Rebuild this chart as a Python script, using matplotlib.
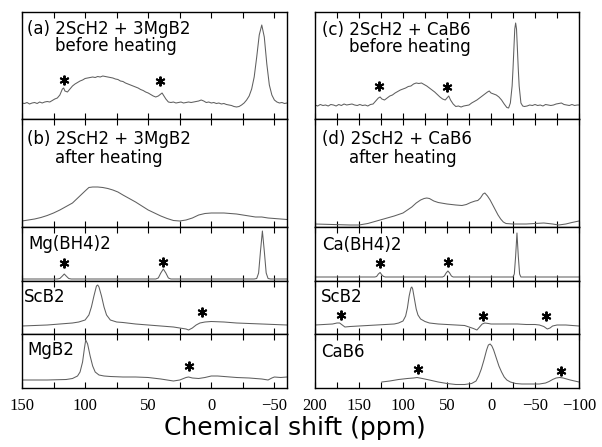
import matplotlib.pyplot as plt
from matplotlib.ticker import MultipleLocator

# spectra: ppm positions and heights (pixels above panel bottom)
a_ppm = [150, 148, 146, 144, 142, 140, 138, 136, 134, 132, 130, 128, 126, 124, 122, 120, 118, 117, 116, 114,
         112, 110, 108, 106, 104, 102, 100, 98, 96, 94, 92, 90, 88, 86, 84, 82, 80, 78, 76, 74,
         72, 70, 68, 66, 64, 62, 60, 58, 56, 54, 52, 50, 48, 46, 44, 42, 40, 39, 38, 36,
         34, 32, 30, 28, 26, 24, 22, 20, 18, 16, 14, 12, 10, 8, 6, 4, 2, 0, -2, -4,
         -6, -8, -10, -12, -14, -16, -18, -20, -22, -24, -26, -28, -30, -32, -34, -36, -38, -40, -42, -44,
         -46, -48, -50, -52, -54, -56, -58, -60]
a_int = [16, 15.5, 16.5, 15, 16, 16.5, 15.5, 17, 16, 17, 17.5, 17, 18.5, 20, 21, 24, 30, 31, 28, 27,
         30, 33, 35, 36.5, 38, 39, 40.5, 41, 41.5, 42, 41.5, 42.5, 42, 43, 42.5, 42, 41.5, 41, 40, 39.5,
         38, 37.5, 36, 35, 34, 33, 32, 31, 29.5, 28.5, 27, 26, 24.5, 23, 22, 23, 25, 26, 24, 20,
         17, 16.5, 17, 16, 16.5, 17, 16, 16.5, 17, 16.5, 17, 17.5, 18, 19, 18, 16.5, 17, 16, 16.5, 15.5,
         16, 15, 15.5, 14.5, 14, 13.5, 12.5, 12, 12.5, 14, 16, 19, 23, 30, 42, 62, 84, 94, 82, 55,
         34, 24, 19, 17, 16, 16.5, 15.5, 16]

b_ppm = [150, 145, 140, 135, 130, 125, 120, 115, 110, 105, 100, 97, 94, 90, 86, 82, 78, 74, 70, 65,
         60, 55, 50, 45, 40, 35, 30, 25, 20, 15, 10, 5, 0, -5, -10, -15, -20, -25, -30, -35,
         -40, -45, -50, -55, -60]
b_int = [6, 7, 8, 9.5, 11.5, 14, 17, 20.5, 24, 30, 36, 39.5, 40, 40, 39.5, 38.5, 37, 35, 32, 28.5,
         25, 21, 17, 14, 11, 8.5, 6.5, 6, 7, 9, 12, 13.5, 14, 14, 14, 13.5, 13, 12, 11, 10,
         10, 9, 8.5, 8, 7.5]

mgbh_ppm = [150, 122, 120, 118, 116.5, 115, 113, 111, 44, 42, 40, 38, 36, 34, 32,
            -34, -36, -37.5, -39, -40.5, -42, -43.5, -45, -47, -60]
mgbh_int = [2, 2, 2.5, 5, 7, 5, 2.5, 2, 2, 3, 8, 12, 8, 3, 2,
            2, 2.5, 8, 30, 50, 30, 8, 2.5, 2, 2]

scb2_l_ppm = [150, 140, 130, 120, 110, 105, 100, 97, 95, 93, 91, 90, 89, 87, 85, 83, 80, 75, 70, 60,
              50, 40, 30, 25, 20, 18, 15, 12, 9, 5, 0, -10, -20, -30, -40, -50, -60]
scb2_l_int = [8, 8.5, 9, 10, 11, 12, 14, 19, 27, 38, 48, 49, 47, 38, 27, 19, 14, 12, 11.5, 10,
              9, 8, 7, 6, 5, 4, 6, 9, 11, 12, 12.5, 12, 11, 10.5, 10, 9.5, 9]

mgb2_ppm = [150, 130, 115, 110, 106, 104, 102, 100.5, 99.5, 98, 96, 94, 92, 89, 85, 80, 70, 60, 50, 40,
            35, 30, 25, 20, 18, 15, 10, 5, 0, -5, -10, -20, -30, -40, -45, -48, -50, -55, -60]
mgb2_int = [8, 8, 8.5, 9.5, 12, 16, 26, 40, 48, 44, 32, 22, 16, 13, 12, 11.5, 11, 11, 10.5, 9,
            8, 7, 8, 10.5, 11, 10, 9.5, 10.5, 12, 12, 11.5, 10.5, 10, 9, 8, 10, 11, 10.5, 11]

c_ppm = [200, 197, 194, 191, 188, 185, 182, 179, 176, 173, 170, 167, 164, 161, 158, 155, 152, 149, 146, 143,
         140, 137, 134, 131, 128, 126, 124, 121, 118, 115, 112, 109, 106, 103, 100, 97, 94, 91, 88, 85,
         82, 79, 76, 73, 70, 67, 64, 61, 58, 55, 52, 50, 48, 46, 43, 40, 37, 34, 31, 28,
         25, 22, 19, 16, 13, 10, 7, 4, 2, 0, -3, -6, -9, -12, -15, -18, -20, -22, -24, -25,
         -26, -27, -28, -29, -30, -31, -32, -34, -36, -38, -41, -44, -47, -50, -53, -56, -59, -62, -65, -68,
         -71, -74, -77, -80, -83, -86, -89, -92, -95, -98, -100]
c_int = [14, 13, 14.5, 13.5, 14, 13, 14.5, 14, 13, 14.5, 13.5, 15, 14, 14.5, 15, 14, 13.5, 14.5, 13.5, 14,
         13, 14.5, 15, 18, 21, 22, 20, 19, 21, 23, 24, 26, 27.5, 29, 30, 31, 32.5, 33, 35, 36,
         35.5, 36, 34.5, 33, 31, 29, 27, 24.5, 22, 20, 19, 21, 23, 19, 15, 12.5, 13, 12, 13, 13.5,
         14, 16, 17.5, 19, 21, 23, 25, 27, 28, 26, 25, 24, 22, 19, 15, 11.5, 11, 16, 33, 50,
         70, 90, 96, 90, 70, 50, 33, 16, 13, 12.5, 13, 14, 13.5, 14.5, 13.5, 14, 13, 14.5, 14, 13.5,
         14, 15, 15.5, 16, 14.5, 14, 13.5, 14.5, 13.5, 14, 14]

d_ppm = [200, 180, 160, 150, 140, 130, 120, 110, 100, 95, 90, 85, 80, 76, 73, 70, 65, 60, 50, 40,
         33, 28, 23, 18, 15, 12, 9, 7, 4, 1, -2, -5, -8, -11, -14, -17, -25, -40, -50, -60,
         -70, -77, -85, -92, -100]
d_int = [3, 2.5, 2, 2, 3.5, 6, 8.5, 11, 14, 17, 20, 24, 27, 28.5, 29, 28.5, 26, 24.5, 23, 22,
         21.5, 22.5, 24.5, 26, 26.5, 29, 33, 34, 31, 27, 22, 17, 12, 8, 5, 3.5, 3, 3, 3.5, 4,
         3, 2, 3, 4.5, 6]

cabh_ppm = [200, 132, 130, 128, 126, 124, 122, 120, 55, 53, 51, 49, 47, 45, 43,
            -25, -26.5, -28, -29.5, -31, -32.5, -34, -100]
cabh_int = [4, 4, 4.5, 7, 8.5, 6, 4.5, 4, 4, 5, 8, 10, 8, 5, 4,
            4, 7, 25, 48, 25, 7, 4, 4]

scb2_r_ppm = [200, 190, 180, 175, 172, 169, 166, 160, 150, 140, 130, 120, 110, 105, 100, 97, 95, 93, 91, 90,
              89, 87, 85, 83, 80, 75, 70, 60, 50, 40, 30, 25, 20, 16, 13, 10, 7, 3, 0, -10,
              -20, -30, -40, -50, -55, -60, -64, -67, -70, -75, -85, -100]
scb2_r_int = [9, 9.5, 10, 11, 11, 9, 7, 7.5, 8, 8.5, 9, 9.5, 10, 11, 13, 18, 26, 38, 46, 47,
              45, 35, 25, 19, 15, 12.5, 11, 10, 9.5, 9, 8.5, 7, 5.5, 4, 7, 10, 11, 10.5, 10, 10,
              10, 10, 9.5, 9.5, 9, 7.5, 5, 6, 8, 9, 9, 8]

cab6_ppm = [124, 115, 105, 95, 88, 84, 78, 70, 60, 50, 40, 30, 22, 17, 14, 11, 8, 5, 3, 1,
            -1, -3, -6, -9, -12, -15, -18, -22, -28, -35, -45, -55, -62, -66, -70, -74, -78, -82, -86, -90,
            -95, -100]
cab6_int = [6, 7, 8.5, 9.5, 10, 10.5, 9.5, 8, 6, 4.5, 3.5, 3.5, 4.5, 7, 12, 19, 28, 38, 43, 44,
            42, 38, 30, 22, 16, 11, 8, 6, 4.5, 4, 4, 4, 5, 6.5, 8.5, 10, 10.5, 10, 9, 8,
            7, 6]

# spinning sideband markers (ppm, height)
a_stars = [(117, 39), (40.5, 38)]
b_stars = []
mgbh_stars = [(116.5, 18), (38, 19)]
scb2_l_stars = [(7, 22)]
mgb2_stars = [(18, 22)]
c_stars = [(127.5, 33), (50, 32)]
d_stars = []
cabh_stars = [(126.5, 18), (49, 19)]
scb2_r_stars = [(171, 19), (9.5, 18), (-63, 18)]
cab6_stars = [(83, 19), (-79, 17)]

W, H = 602, 447
fig = plt.figure(figsize=(W / 100, H / 100), dpi=100)

# panel boundaries in pixels (top to bottom)
rows = [12, 119, 227, 281, 334, 388]
cols = [(22, 287, 150, -60), (315, 579, 200, -100)]

# label text, x of first line, x of second line, baselines below panel top (px)
left_panels = [
    (a_ppm, a_int, a_stars, ['(a) 2ScH2 + 3MgB2', 'before heating'], 27, 55, (22, 39)),
    (b_ppm, b_int, b_stars, ['(b) 2ScH2 + 3MgB2', 'after heating'], 27, 55, (25, 44)),
    (mgbh_ppm, mgbh_int, mgbh_stars, ['Mg(BH4)2'], 28, 0, (22,)),
    (scb2_l_ppm, scb2_l_int, scb2_l_stars, ['ScB2'], 24, 0, (21,)),
    (mgb2_ppm, mgb2_int, mgb2_stars, ['MgB2'], 27, 0, (21,)),
]
right_panels = [
    (c_ppm, c_int, c_stars, ['(c) 2ScH2 + CaB6', 'before heating'], 322, 349, (23, 40)),
    (d_ppm, d_int, d_stars, ['(d) 2ScH2 + CaB6', 'after heating'], 322, 349, (25, 44)),
    (cabh_ppm, cabh_int, cabh_stars, ['Ca(BH4)2'], 322, 0, (23,)),
    (scb2_r_ppm, scb2_r_int, scb2_r_stars, ['ScB2'], 321, 0, (21,)),
    (cab6_ppm, cab6_int, cab6_stars, ['CaB6'], 321, 0, (23,)),
]

for (x0, x1, xmax, xmin), panels in zip(cols, [left_panels, right_panels]):
    for i, (ppm, inten, stars, label, lx1, lx2, base) in enumerate(panels):
        top, bot = rows[i], rows[i + 1]
        h = bot - top
        w = x1 - x0
        ax = fig.add_axes([x0 / W, 1 - bot / H, w / W, h / H])
        ax.plot(ppm, inten, color='#5f5f5f', lw=0.75)
        for sx, sy in stars:
            ax.plot(sx, sy, marker=(6, 2, 0), ms=7, mew=1.4, color='black')
        ax.set_xlim(xmax, xmin)
        ax.set_ylim(0, h)
        ax.set_yticks([])
        ax.xaxis.set_major_locator(MultipleLocator(50))
        ax.xaxis.set_minor_locator(MultipleLocator(25))
        ax.tick_params(axis='x', which='both', direction='in', top=True, bottom=True,
                       length=4, width=0.8, pad=7)
        for s in ax.spines.values():
            s.set_linewidth(1.0)
        if i < 4:
            ax.tick_params(axis='x', labelbottom=False)
        else:
            for t in ax.get_xticklabels():
                t.set_family('Liberation Serif')
                t.set_fontsize(12)
        ax.text((lx1 - x0) / w, 1 - base[0] / h, label[0], transform=ax.transAxes,
                fontsize=12, family='DejaVu Sans', va='baseline')
        if len(label) == 2:
            ax.text((lx2 - x0) / w, 1 - base[1] / h, label[1], transform=ax.transAxes,
                    fontsize=12, family='DejaVu Sans', va='baseline')

fig.text(295 / W, 1 - 428 / H, 'Chemical shift (ppm)', ha='center', va='center',
         fontsize=18, family='DejaVu Sans')

fig.savefig('out.png', dpi=100)
